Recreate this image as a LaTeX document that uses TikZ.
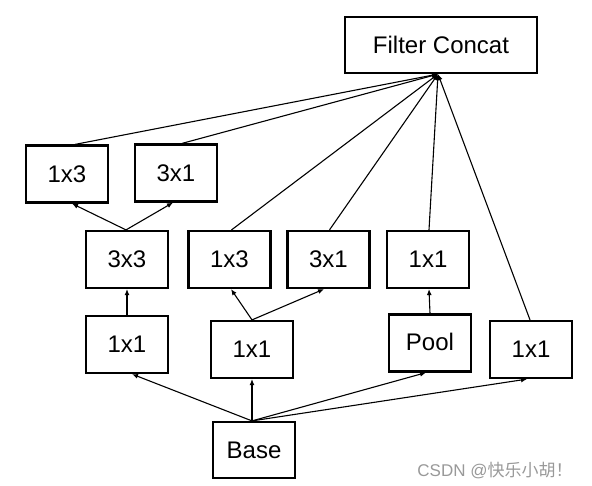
\documentclass[tikz,border=0pt]{standalone}
\usepackage{fontspec}
\setmainfont{Liberation Sans}
\newfontfamily\cjk{Noto Sans CJK SC}
\usetikzlibrary{arrows.meta}
\begin{document}
\begin{tikzpicture}[x=1pt,y=-1pt,
  box/.style={draw, line width=2.2pt, minimum width=82pt, minimum height=57pt, inner sep=0pt, font=\fontsize{24}{26}\selectfont},
  conn/.style={line width=1.1pt, -{Latex[length=6pt,width=5pt]}},
  plain/.style={line width=1.1pt}]
\useasboundingbox (0,0) rectangle (592,485);
\node[box, minimum width=192pt, minimum height=56pt] (FC) at (441,45) {Filter Concat};
\node[box] (A1) at (67,174) {1x3};
\node[box] (A2) at (176,173) {3x1};
\node[box] (B1) at (127,259.5) {3x3};
\node[box] (B2) at (229.5,259.5) {1x3};
\node[box] (B3) at (328.5,259.5) {3x1};
\node[box] (B4) at (428,259.5) {1x1};
\node[box] (C1) at (127,344.5) {1x1};
\node[box] (C2) at (252,349.5) {1x1};
\node[box] (C3) at (430,343) {\raisebox{2pt}{Pool}};
\node[box] (C4) at (531,349.5) {1x1};
\node[box, minimum height=56pt] (Base) at (254,450) {Base};
\coordinate (fcp) at ([xshift=-3pt]FC.south);
% to Filter Concat
\draw[conn] ([xshift=8pt]A1.north) -- (fcp);
\draw[conn] ([xshift=6pt]A2.north) -- (fcp);
\draw[conn] ([xshift=2pt]B2.north) -- (fcp);
\draw[conn] ([xshift=1pt]B3.north) -- (fcp);
\draw[conn] ([xshift=1pt]B4.north) -- (fcp);
\draw[conn] ([xshift=-1pt]C4.north) -- (fcp);
% 3x3 branch
\draw[conn] ([xshift=-1pt]B1.north) -- ([xshift=5pt]A1.south);
\draw[conn] ([xshift=-1pt]B1.north) -- ([xshift=-3pt]A2.south);
\draw[conn] (C1.north) -- (B1.south);
% 1x1 middle branch
\draw[conn] (C2.north) -- ([xshift=1.5pt]B2.south);
\draw[conn] (C2.north) -- ([xshift=-4.5pt]B3.south);
% pool branch
\draw[conn] (C3.north) -- ([xshift=1pt]B4.south);
% from base
\draw[conn] ([xshift=-2pt]Base.north) -- ([xshift=5pt]C1.south);
\draw[conn] ([xshift=-2pt]Base.north) -- (C2.south);
\draw[conn] ([xshift=-2pt]Base.north) -- ([xshift=-4pt]C3.south);
\draw[conn] ([xshift=-2pt]Base.north) -- ([xshift=-4pt]C4.south);
% watermark
\node[text=black!40, font=\fontsize{17}{19}\selectfont, inner sep=0pt] (wm) at (495,471) {CSDN @{\cjk 快乐小胡！}};
\end{tikzpicture}
\end{document}
